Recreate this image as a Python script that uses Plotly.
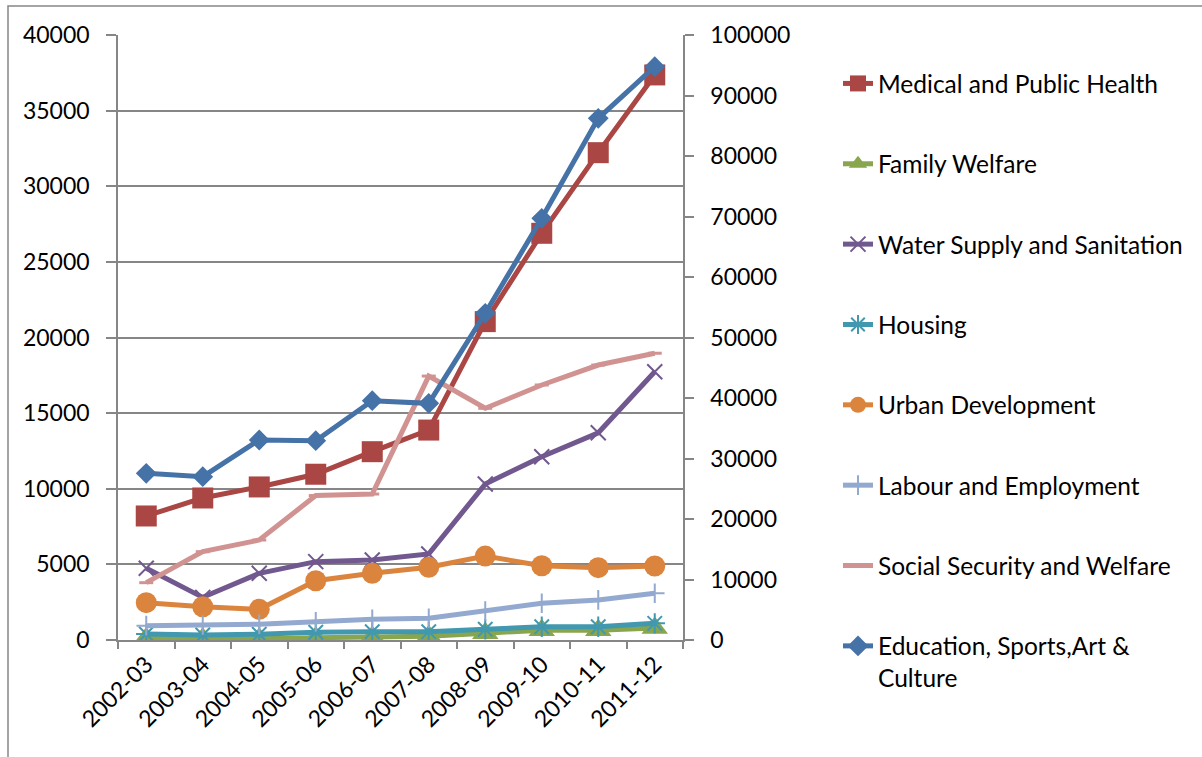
import plotly.graph_objects as go

# Fiscal years on the category axis
years = ["2002-03", "2003-04", "2004-05", "2005-06", "2006-07",
         "2007-08", "2008-09", "2009-10", "2010-11", "2011-12"]

# Expenditure by sector (left axis)
medical = [8200, 9390, 10120, 10960, 12450, 13880, 21050, 26890, 32220, 37360]
family_welfare = [100, 80, 90, 150, 200, 250, 450, 650, 650, 800]
water_supply = [4740, 2820, 4410, 5180, 5290, 5690, 10310, 12120, 13700, 17740]
housing = [400, 330, 380, 510, 550, 550, 710, 880, 880, 1100]
urban_dev = [2470, 2200, 2030, 3920, 4410, 4810, 5550, 4910, 4780, 4890]
labour = [950, 990, 1040, 1210, 1370, 1440, 1920, 2430, 2650, 3090]
social_security = [3790, 5840, 6610, 9550, 9650, 17450, 15320, 16860, 18180, 18960]

# Education, Sports, Art & Culture (right axis)
education = [27550, 27000, 33060, 32940, 39550, 39120, 54000, 69700, 86230, 94760]

FONT = "Lato"
AXIS_GREY = "#868686"

W, H = 1202, 757
M_L, M_R, M_T, M_B = 118, 519, 5, 60
PLOT_TOP, PLOT_BOTTOM = 35, 640          # pixel rows of the axes area
PAPER_H = H - M_T - M_B
PAPER_W = W - M_L - M_R


def px_x(px):
    return (px - M_L) / PAPER_W


def px_y(py):
    return (H - M_B - py) / PAPER_H


series = [
    ("Medical and Public Health", medical, "#AA4643",
     dict(symbol="square", size=21)),
    ("Family Welfare", family_welfare, "#89A54E",
     dict(symbol="triangle-up", size=23)),
    ("Water Supply and Sanitation", water_supply, "#71588F",
     dict(symbol="x-thin", size=15, line=dict(width=2, color="#71588F"))),
    ("Housing", housing, "#4198AF",
     dict(symbol="asterisk", size=17, line=dict(width=2, color="#4198AF"))),
    ("Urban Development", urban_dev, "#DB843D",
     dict(symbol="circle", size=21)),
    ("Labour and Employment", labour, "#93A9CF",
     dict(symbol="cross-thin", size=14, line=dict(width=2, color="#93A9CF"))),
    ("Social Security and Welfare", social_security, "#D19392",
     dict(symbol="line-ew", size=10, line=dict(width=3, color="#D19392"))),
]

fig = go.Figure()

for i, (name, vals, color, marker) in enumerate(series):
    fig.add_trace(go.Scatter(
        x=years, y=vals, name=name, mode="lines+markers",
        line=dict(color=color, width=5),
        marker=dict(color=color, **marker),
        legendgroup=f"g{i}",
        yaxis="y",
    ))

fig.add_trace(go.Scatter(
    x=years, y=education, name="Education, Sports,Art &<br>Culture",
    mode="lines+markers",
    line=dict(color="#4572A7", width=5),
    marker=dict(color="#4572A7", symbol="diamond", size=16),
    legendgroup="g7",
    yaxis="y2",
))

tick_font = dict(family=FONT, size=23, color="#000000")
y_domain = [px_y(PLOT_BOTTOM), px_y(PLOT_TOP)]

fig.update_layout(
    template="none",
    width=W, height=H,
    margin=dict(l=M_L, r=M_R, t=M_T, b=M_B, autoexpand=False),
    paper_bgcolor="white", plot_bgcolor="white",
    font=dict(family=FONT, size=23, color="#000000"),
    xaxis=dict(
        type="category", tickangle=-45, tickfont=tick_font,
        showline=True, linecolor=AXIS_GREY, linewidth=1.5,
        ticks="outside", tickson="boundaries", ticklen=7,
        tickcolor=AXIS_GREY, tickwidth=1.5,
        showgrid=False, range=[-0.5, 9.5],
        anchor="y", automargin=False,
    ),
    yaxis=dict(
        domain=y_domain,
        range=[0, 40000], dtick=5000, tickformat="d", tickfont=tick_font,
        showline=True, linecolor=AXIS_GREY, linewidth=1.5,
        ticks="outside", ticklen=10, tickcolor=AXIS_GREY, tickwidth=1.5,
        showgrid=True, gridcolor=AXIS_GREY, gridwidth=1.5,
        zeroline=False, ticklabelstandoff=12, automargin=False,
    ),
    yaxis2=dict(
        range=[0, 100000], dtick=10000, tickformat="d", tickfont=tick_font,
        overlaying="y", side="right",
        showline=True, linecolor=AXIS_GREY, linewidth=1.5,
        ticks="outside", ticklen=9, tickcolor=AXIS_GREY, tickwidth=1.5,
        showgrid=False, zeroline=False, ticklabelstandoff=12,
        automargin=False,
    ),
    legend=dict(
        x=px_x(838), xanchor="left", y=px_y(61), yanchor="top",
        font=dict(family=FONT, size=24.5, color="#000000"),
        tracegroupgap=45.5, valign="top",
        bgcolor="rgba(0,0,0,0)",
    ),
    showlegend=True,
    shapes=[dict(
        type="rect", xref="paper", yref="paper",
        x0=px_x(8), x1=px_x(1220),
        y0=px_y(790), y1=px_y(6),
        line=dict(color=AXIS_GREY, width=1.5), fillcolor="rgba(0,0,0,0)",
        layer="below",
    )],
)

fig.write_html("out.html")
